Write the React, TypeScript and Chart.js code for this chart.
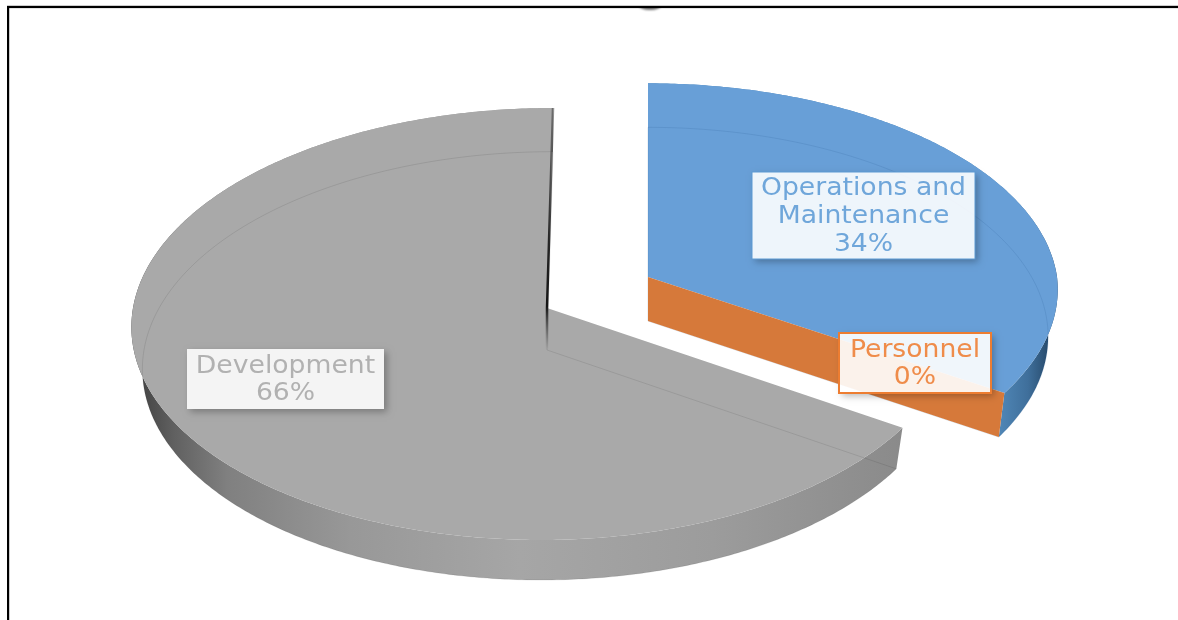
import React, { useEffect, useRef } from "react";
import { Chart, registerables } from "chart.js";

Chart.register(...registerables);

const categories = ["Operations and Maintenance", "Personnel", "Development"];
const shares = [34, 0, 66];

const PERSPECTIVE = 0.074;
type Proj = { ax: number; ay: number; R: number; Rr: number; c: number; shear: number; shearUp: number };
const blueTop: Proj = { ax: 648, ay: 277, R: 409, Rr: 409, c: 208, shear: 6, shearUp: 0 };
const blueBottom: Proj = { ax: 648, ay: 321, R: 399, Rr: 399, c: 208, shear: 0, shearUp: 0 };
const grayTop: Proj = { ax: 547, ay: 308, R: 414, Rr: 408, c: 214.8, shear: 6, shearUp: 6 };
const grayBottom: Proj = { ax: 547, ay: 350, R: 403, Rr: 401, c: 213, shear: 6, shearUp: 6 };

function pt(p: Proj, theta: number): [number, number] {
  const u = Math.sin(theta);
  const v = -Math.cos(theta);
  const w = 1 - PERSPECTIVE * v;
  const r = u > 0 ? p.Rr : p.R;
  const s = v > 0 ? p.shear : p.shearUp;
  return [p.ax + (r * u) / w - s * v, p.ay + (p.c * v) / w];
}

function arcPts(p: Proj, a: number, b: number): [number, number][] {
  const n = Math.max(2, Math.ceil(Math.abs(b - a) / 0.01));
  const out: [number, number][] = [];
  for (let i = 0; i <= n; i++) out.push(pt(p, a + ((b - a) * i) / n));
  return out;
}

function trace(ctx: CanvasRenderingContext2D, pts: [number, number][], close = true) {
  ctx.beginPath();
  pts.forEach(([x, y], i) => (i ? ctx.lineTo(x, y) : ctx.moveTo(x, y)));
  if (close) ctx.closePath();
}

function gradient(ctx: CanvasRenderingContext2D, x0: number, x1: number, stops: [number, string][]) {
  const g = ctx.createLinearGradient(x0, 0, x1, 0);
  stops.forEach(([s, c]) => g.addColorStop(s, c));
  return g;
}

function wedge(
  ctx: CanvasRenderingContext2D,
  top: Proj,
  bottom: Proj,
  a: number,
  b: number,
  rim: CanvasGradient,
  fill: string,
  faint: string
) {
  const topArc = arcPts(top, a, b);
  const botArc = arcPts(bottom, a, b);
  trace(ctx, [...topArc, ...botArc.slice().reverse()]);
  ctx.fillStyle = rim;
  ctx.fill();
  trace(ctx, [[top.ax, top.ay], ...topArc]);
  ctx.fillStyle = fill;
  ctx.fill();
  trace(ctx, [[bottom.ax, bottom.ay], ...botArc]);
  ctx.strokeStyle = faint;
  ctx.lineWidth = 1;
  ctx.stroke();
}

type Box = {
  index: number;
  lines: string[];
  x0: number;
  x1: number;
  y0: number;
  y1: number;
  fill: string;
  border: string | null;
  borderWidth: number;
  color: string;
  baseY: number[];
};

const TEXT_FONT = "24px 'DejaVu Sans'";
const TEXT_STRETCH = 1.11;

const boxes: Box[] = [
  {
    index: 0,
    lines: ["Operations and", "Maintenance"],
    x0: 752, x1: 975, y0: 172, y1: 259,
    fill: "rgba(255,255,255,0.89)", border: "#5c9ad3", borderWidth: 1,
    color: "#6fa6da", baseY: [189, 217, 245],
  },
  {
    index: 1,
    lines: ["Personnel"],
    x0: 839, x1: 991, y0: 333, y1: 393,
    fill: "rgba(255,255,255,0.9)", border: "#ed7d31", borderWidth: 2,
    color: "#ef8c4a", baseY: [351, 378],
  },
  {
    index: 2,
    lines: ["Development"],
    x0: 187, x1: 384, y0: 349, y1: 409,
    fill: "rgba(255,255,255,0.87)", border: null, borderWidth: 0,
    color: "#b1b1b1", baseY: [367, 394],
  },
];

const pie3d = {
  id: "pie3d",
  beforeDatasetsDraw(chart: any) {
    const ctx: CanvasRenderingContext2D = chart.ctx;
    const arcs = chart.getDatasetMeta(0).data;
    const th = (a: number) => a + Math.PI / 2;

    ctx.save();
    ctx.fillStyle = "#ffffff";
    ctx.fillRect(0, 0, chart.width, chart.height);

    // small clipped mark under the frame line
    ctx.save();
    ctx.beginPath();
    ctx.rect(600, 8, 100, 10);
    ctx.clip();
    ctx.filter = "blur(0.8px)";
    ctx.fillStyle = "#6f6f6f";
    ctx.beginPath();
    ctx.ellipse(650, 5.5, 11, 4.5, 0, 0, Math.PI * 2);
    ctx.fill();
    ctx.restore();

    ctx.fillStyle = "#000";
    ctx.fillRect(7, 5.8, chart.width - 7, 2.3);
    ctx.fillRect(7, 6, 2.2, chart.height - 6);

    // Development
    const dev = arcs[2];
    wedge(
      ctx, grayTop, grayBottom, th(dev.startAngle), th(dev.endAngle),
      gradient(ctx, 135, 905, [
        [0, "#3f3f3f"], [0.05, "#606060"], [0.12, "#808080"], [0.28, "#989898"],
        [0.5, "#a6a6a6"], [0.75, "#9c9c9c"], [1, "#8a8a8a"],
      ]),
      "#a9a9a9", "rgba(0,0,0,0.09)"
    );
    // dark seam along the closing cut of the Development slice
    const [tx, ty] = pt(grayTop, th(dev.endAngle));
    const seam = ctx.createLinearGradient(0, ty, 0, grayBottom.ay);
    seam.addColorStop(0, "rgba(60,60,60,0.55)");
    seam.addColorStop(0.55, "rgba(30,30,30,0.95)");
    seam.addColorStop(0.82, "rgba(20,20,20,1)");
    seam.addColorStop(1, "rgba(60,60,60,0)");
    ctx.strokeStyle = seam;
    ctx.lineWidth = 2.5;
    ctx.beginPath();
    ctx.moveTo(tx, ty);
    ctx.lineTo(grayTop.ax, grayTop.ay);
    ctx.lineTo(grayBottom.ax, grayBottom.ay);
    ctx.stroke();

    // Operations and Maintenance
    const ops = arcs[0];
    wedge(
      ctx, blueTop, blueBottom, th(ops.startAngle), th(ops.endAngle),
      gradient(ctx, 1000, 1056, [[0, "#4f86b6"], [0.5, "#3f6f9b"], [1, "#1f3e5c"]]),
      "#689fd7", "rgba(40,90,140,0.16)"
    );

    // Personnel: a zero share, only its cut face is visible
    const per = arcs[1];
    const a = th(per.startAngle);
    const [ex, ey] = pt(blueTop, a);
    const [fx, fy] = pt(blueBottom, a);
    trace(ctx, [[blueTop.ax, blueTop.ay], [ex, ey], [fx, fy], [blueBottom.ax, blueBottom.ay]]);
    ctx.fillStyle = "#d6793a";
    ctx.fill();

    // labels
    boxes.forEach((b) => {
      const w = b.x1 - b.x0;
      const h = b.y1 - b.y0;
      // shadow only outside the translucent box
      ctx.save();
      ctx.beginPath();
      ctx.rect(0, 0, chart.width, chart.height);
      ctx.rect(b.x0, b.y0, w, h);
      ctx.clip("evenodd");
      ctx.shadowColor = "rgba(0,0,0,0.28)";
      ctx.shadowBlur = 7;
      ctx.shadowOffsetX = 3;
      ctx.shadowOffsetY = 3;
      ctx.fillStyle = "#000";
      ctx.fillRect(b.x0, b.y0, w, h);
      ctx.restore();
      ctx.fillStyle = b.fill;
      ctx.fillRect(b.x0, b.y0, w, h);
      if (b.border) {
        ctx.strokeStyle = b.border;
        ctx.lineWidth = b.borderWidth;
        ctx.strokeRect(b.x0, b.y0, w, h);
      }
      const cx = (b.x0 + b.x1) / 2;
      ctx.fillStyle = b.color;
      ctx.font = TEXT_FONT;
      ctx.textAlign = "center";
      ctx.textBaseline = "middle";
      ctx.filter = "blur(0.4px)";
      const text = [...b.lines, `${shares[b.index]}%`];
      text.forEach((t, i) => {
        ctx.save();
        ctx.translate(cx, b.baseY[i]);
        ctx.scale(TEXT_STRETCH, 1);
        ctx.fillText(t, 0, 0);
        ctx.restore();
      });
      ctx.filter = "none";
    });
    ctx.restore();
    return false;
  },
};

export default function App() {
  const ref = useRef<HTMLCanvasElement>(null);
  useEffect(() => {
    if (!ref.current) return;
    const chart = new Chart(ref.current, {
      type: "pie",
      data: {
        labels: categories,
        datasets: [{ data: shares, backgroundColor: ["#689fd7", "#d6793a", "#a9a9a9"] }],
      },
      options: {
        responsive: false,
        animation: false,
        rotation: 0,
        plugins: { legend: { display: false }, tooltip: { enabled: false } },
      },
      plugins: [pie3d],
    } as any);
    return () => chart.destroy();
  }, []);
  return (
    <canvas
      ref={ref}
      width={1178}
      height={620}
      style={{ position: "fixed", left: 0, top: 0, display: "block", width: 1178, height: 620 }}
    />
  );
}
